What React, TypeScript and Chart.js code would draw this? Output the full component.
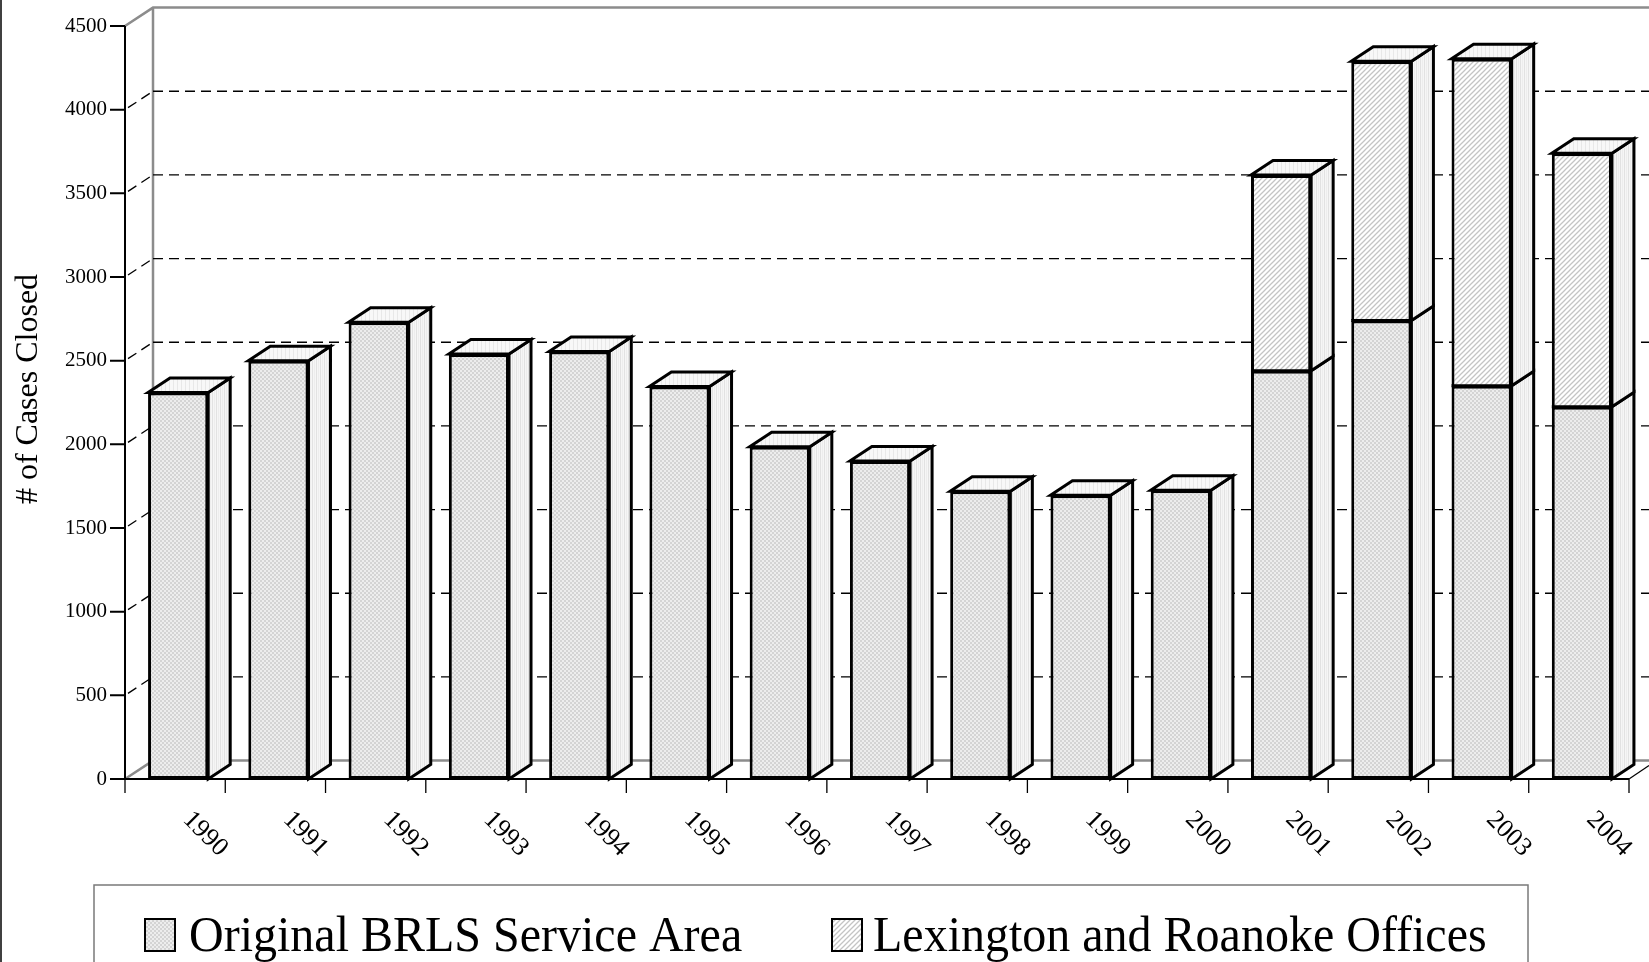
import React, { useEffect, useRef } from "react";
import { Chart, registerables } from "chart.js";

Chart.register(...registerables);

const years = ["1990", "1991", "1992", "1993", "1994", "1995", "1996", "1997", "1998", "1999", "2000", "2001", "2002", "2003", "2004"];
const originalArea = [2310, 2500, 2730, 2540, 2555, 2345, 1985, 1900, 1720, 1695, 1725, 2440, 2740, 2350, 2225];
const lexRoanoke = [null, null, null, null, null, null, null, null, null, null, null, 1170, 1550, 1955, 1515];
const yTicks = [0, 500, 1000, 1500, 2000, 2500, 3000, 3500, 4000, 4500];
const seriesLabels = ["Original BRLS Service Area", "Lexington and Roanoke Offices"];
const yTitle = "# of Cases Closed";

const W = 1649;
const H = 962;
const FONT = '"Liberation Serif", "Times New Roman", serif';

function makePattern(kind: string): CanvasPattern | string {
  const c = document.createElement("canvas");
  const g = c.getContext("2d");
  if (!g) return "#e0e0e0";
  if (kind === "dots") {
    c.width = 4; c.height = 4;
    g.fillStyle = "#ededed"; g.fillRect(0, 0, 4, 4);
    g.fillStyle = "#d4d4d4";
    g.fillRect(0, 0, 2, 2); g.fillRect(2, 2, 2, 2);
  } else if (kind === "side") {
    c.width = 4; c.height = 2;
    g.fillStyle = "#f6f6f6"; g.fillRect(0, 0, 4, 2);
    g.fillStyle = "#e2e2e2"; g.fillRect(0, 0, 1, 2);
    g.fillStyle = "#ededed"; g.fillRect(2, 0, 1, 2);
  } else if (kind === "top") {
    c.width = 4; c.height = 2;
    g.fillStyle = "#f8f8f8"; g.fillRect(0, 0, 4, 2);
    g.fillStyle = "#e8e8e8"; g.fillRect(1, 0, 1, 2);
  } else {
    c.width = 5; c.height = 5;
    g.fillStyle = "#ffffff"; g.fillRect(0, 0, 5, 5);
    g.strokeStyle = "#c4c4c4"; g.lineWidth = 1.3;
    g.beginPath();
    g.moveTo(-1, 6); g.lineTo(6, -1);
    g.moveTo(-1, 1); g.lineTo(1, -1);
    g.moveTo(4, 6); g.lineTo(6, 4);
    g.stroke();
  }
  const p = g.createPattern(c, "repeat");
  return p || "#e0e0e0";
}

const DX = 22, DY = -14.5; // bar depth
const WX = 28, WY = -18.4; // wall depth
const SHIFT = 3;

export default function App() {
  const ref = useRef<HTMLCanvasElement | null>(null);

  useEffect(() => {
    const canvas = ref.current;
    if (!canvas) return;
    const dots = makePattern("dots");
    const hatch = makePattern("hatch");
    const side = makePattern("side");
    const top = makePattern("top");

    const plugin = {
      id: "threeD",
      beforeDatasetsDraw(chart: any) {
        const ctx = chart.ctx as CanvasRenderingContext2D;
        const { left, right } = chart.chartArea;
        const ys = chart.scales.y;
        const xs = chart.scales.x;
        const ax0 = left - SHIFT, ax1 = right - SHIFT;
        const y0 = ys.getPixelForValue(0);
        const yMax = ys.getPixelForValue(4500);
        ctx.save();
        // outer frame line
        ctx.strokeStyle = "#000"; ctx.lineWidth = 1.5;
        ctx.beginPath(); ctx.moveTo(1, 0); ctx.lineTo(1, H); ctx.stroke();
        // back wall & floor
        ctx.strokeStyle = "#8c8c8c"; ctx.lineWidth = 2.5;
        ctx.beginPath();
        ctx.moveTo(ax0, yMax); ctx.lineTo(ax0 + WX, yMax + WY); ctx.lineTo(W, yMax + WY);
        ctx.moveTo(ax0 + WX, yMax + WY); ctx.lineTo(ax0 + WX, y0 + WY); ctx.lineTo(W, y0 + WY);
        ctx.moveTo(ax0, y0); ctx.lineTo(ax0 + WX, y0 + WY);
        ctx.stroke();
        // dashed gridlines
        ctx.strokeStyle = "#000"; ctx.lineWidth = 1.3; ctx.setLineDash([10, 6]);
        for (const v of yTicks) {
          if (v <= 0 || v >= 4500) continue;
          const yy = ys.getPixelForValue(v);
          ctx.beginPath();
          ctx.moveTo(ax0 + WX, yy + WY); ctx.lineTo(W, yy + WY);
          ctx.stroke();
          ctx.beginPath();
          ctx.moveTo(ax0 + 3, yy - 2); ctx.lineTo(ax0 + WX, yy + WY);
          ctx.stroke();
        }
        ctx.setLineDash([]);
        // front axes
        ctx.strokeStyle = "#000"; ctx.lineWidth = 2;
        ctx.beginPath();
        ctx.moveTo(ax0, yMax); ctx.lineTo(ax0, y0); ctx.lineTo(ax1, y0);
        ctx.stroke();
        ctx.lineWidth = 1.2;
        ctx.beginPath(); ctx.moveTo(ax1, y0); ctx.lineTo(ax1 + 20, y0 - 13.5); ctx.stroke();
        ctx.lineWidth = 2;
        ctx.beginPath();
        for (const v of yTicks) {
          const yy = ys.getPixelForValue(v);
          ctx.moveTo(ax0 - 15, yy); ctx.lineTo(ax0, yy);
        }
        ctx.stroke();
        ctx.lineWidth = 1.3;
        ctx.beginPath();
        const n = years.length;
        const cw = (right - left) / n;
        for (let i = 0; i <= n; i++) {
          const xx = ax0 + i * cw;
          ctx.moveTo(xx, y0); ctx.lineTo(xx, y0 + 14);
        }
        ctx.stroke();
        // y tick labels
        ctx.fillStyle = "#000";
        ctx.font = `21px ${FONT}`;
        ctx.textAlign = "right"; ctx.textBaseline = "middle";
        for (const v of yTicks) ctx.fillText(String(v), ax0 - 18, ys.getPixelForValue(v));
        // x labels
        ctx.font = `26px ${FONT}`;
        ctx.textAlign = "center"; ctx.textBaseline = "middle";
        years.forEach((yr, i) => {
          const cx = xs.getPixelForValue(i) - SHIFT + 30;
          ctx.save();
          ctx.translate(cx, 834);
          ctx.rotate(Math.PI / 4);
          ctx.fillText(yr, 0, 0);
          ctx.restore();
        });
        // y title
        ctx.font = `32px ${FONT}`;
        ctx.save();
        ctx.translate(29, 389);
        ctx.rotate(-Math.PI / 2);
        ctx.fillText(yTitle, 0, 0);
        ctx.restore();
        // legend
        ctx.strokeStyle = "#7a7a7a"; ctx.lineWidth = 1.5;
        ctx.strokeRect(94, 885, 1528 - 94, 120);
        const sw = [
          { x: 145, fill: dots, tx: 189, label: seriesLabels[0] },
          { x: 832, fill: hatch, tx: 873, label: seriesLabels[1] },
        ];
        ctx.font = `48px ${FONT}`;
        ctx.textAlign = "left"; ctx.textBaseline = "alphabetic";
        for (const s of sw) {
          ctx.fillStyle = s.fill as any;
          ctx.fillRect(s.x, 919, 30, 32);
          ctx.strokeStyle = "#000"; ctx.lineWidth = 2;
          ctx.strokeRect(s.x, 919, 30, 32);
          ctx.fillStyle = "#000";
          ctx.save();
          ctx.translate(s.tx, 951);
          ctx.scale(1, 1.06);
          ctx.fillText(s.label, 0, 0);
          ctx.restore();
        }
        ctx.restore();
      },
      afterDatasetsDraw(chart: any) {
        const ctx = chart.ctx as CanvasRenderingContext2D;
        ctx.save();
        ctx.lineJoin = "miter";
        const nD = chart.data.datasets.length;
        const topIdx: number[] = years.map((_, i) => {
          let t = -1;
          for (let d = 0; d < nD; d++) {
            const v = chart.data.datasets[d].data[i];
            if (v !== null && v !== undefined) t = d;
          }
          return t;
        });
        for (let d = 0; d < nD; d++) {
          const meta = chart.getDatasetMeta(d);
          meta.data.forEach((el: any, i: number) => {
            const v = chart.data.datasets[d].data[i];
            if (v === null || v === undefined) return;
            const p = el.getProps(["x", "y", "base", "width"], true);
            const l = p.x - p.width / 2, r = p.x + p.width / 2;
            const t = Math.min(p.y, p.base), b = Math.max(p.y, p.base);
            ctx.lineWidth = 3; ctx.strokeStyle = "#000";
            ctx.beginPath();
            ctx.moveTo(r, t); ctx.lineTo(r + DX, t + DY); ctx.lineTo(r + DX, b + DY); ctx.lineTo(r, b);
            ctx.closePath();
            ctx.fillStyle = side as any; ctx.fill(); ctx.stroke();
            if (topIdx[i] === d) {
              ctx.beginPath();
              ctx.moveTo(l, t); ctx.lineTo(l + DX, t + DY); ctx.lineTo(r + DX, t + DY); ctx.lineTo(r, t);
              ctx.closePath();
              ctx.fillStyle = top as any; ctx.fill(); ctx.stroke();
            } else {
              // divider between stacked segments on the front face
              ctx.beginPath();
              ctx.moveTo(l, t); ctx.lineTo(r, t);
              ctx.stroke();
            }
          });
        }
        ctx.restore();
      },
    };

    const chart = new Chart(canvas, {
      type: "bar",
      data: {
        labels: years,
        datasets: [
          {
            label: seriesLabels[0],
            data: originalArea,
            backgroundColor: dots as any,
            borderColor: "#000",
            borderWidth: 3,
            borderSkipped: false,
            barPercentage: 0.6,
            categoryPercentage: 1,
          },
          {
            label: seriesLabels[1],
            data: lexRoanoke as any,
            backgroundColor: hatch as any,
            borderColor: "#000",
            borderWidth: 3,
            borderSkipped: "start",
            barPercentage: 0.6,
            categoryPercentage: 1,
          },
        ],
      },
      options: {
        responsive: false,
        animation: false,
        devicePixelRatio: 1,
        layout: { padding: { left: 128, right: W - 1632, top: 26, bottom: H - 779 } },
        scales: {
          x: { stacked: true, display: false },
          y: { stacked: true, display: false, min: 0, max: 4500 },
        },
        plugins: { legend: { display: false }, tooltip: { enabled: false } },
      },
      plugins: [plugin],
    });
    return () => chart.destroy();
  }, []);

  return (
    <div style={{ position: "fixed", left: 0, top: 0, width: W, height: H, background: "#fff" }}>
      <canvas ref={ref} width={W} height={H} style={{ display: "block" }} />
    </div>
  );
}
